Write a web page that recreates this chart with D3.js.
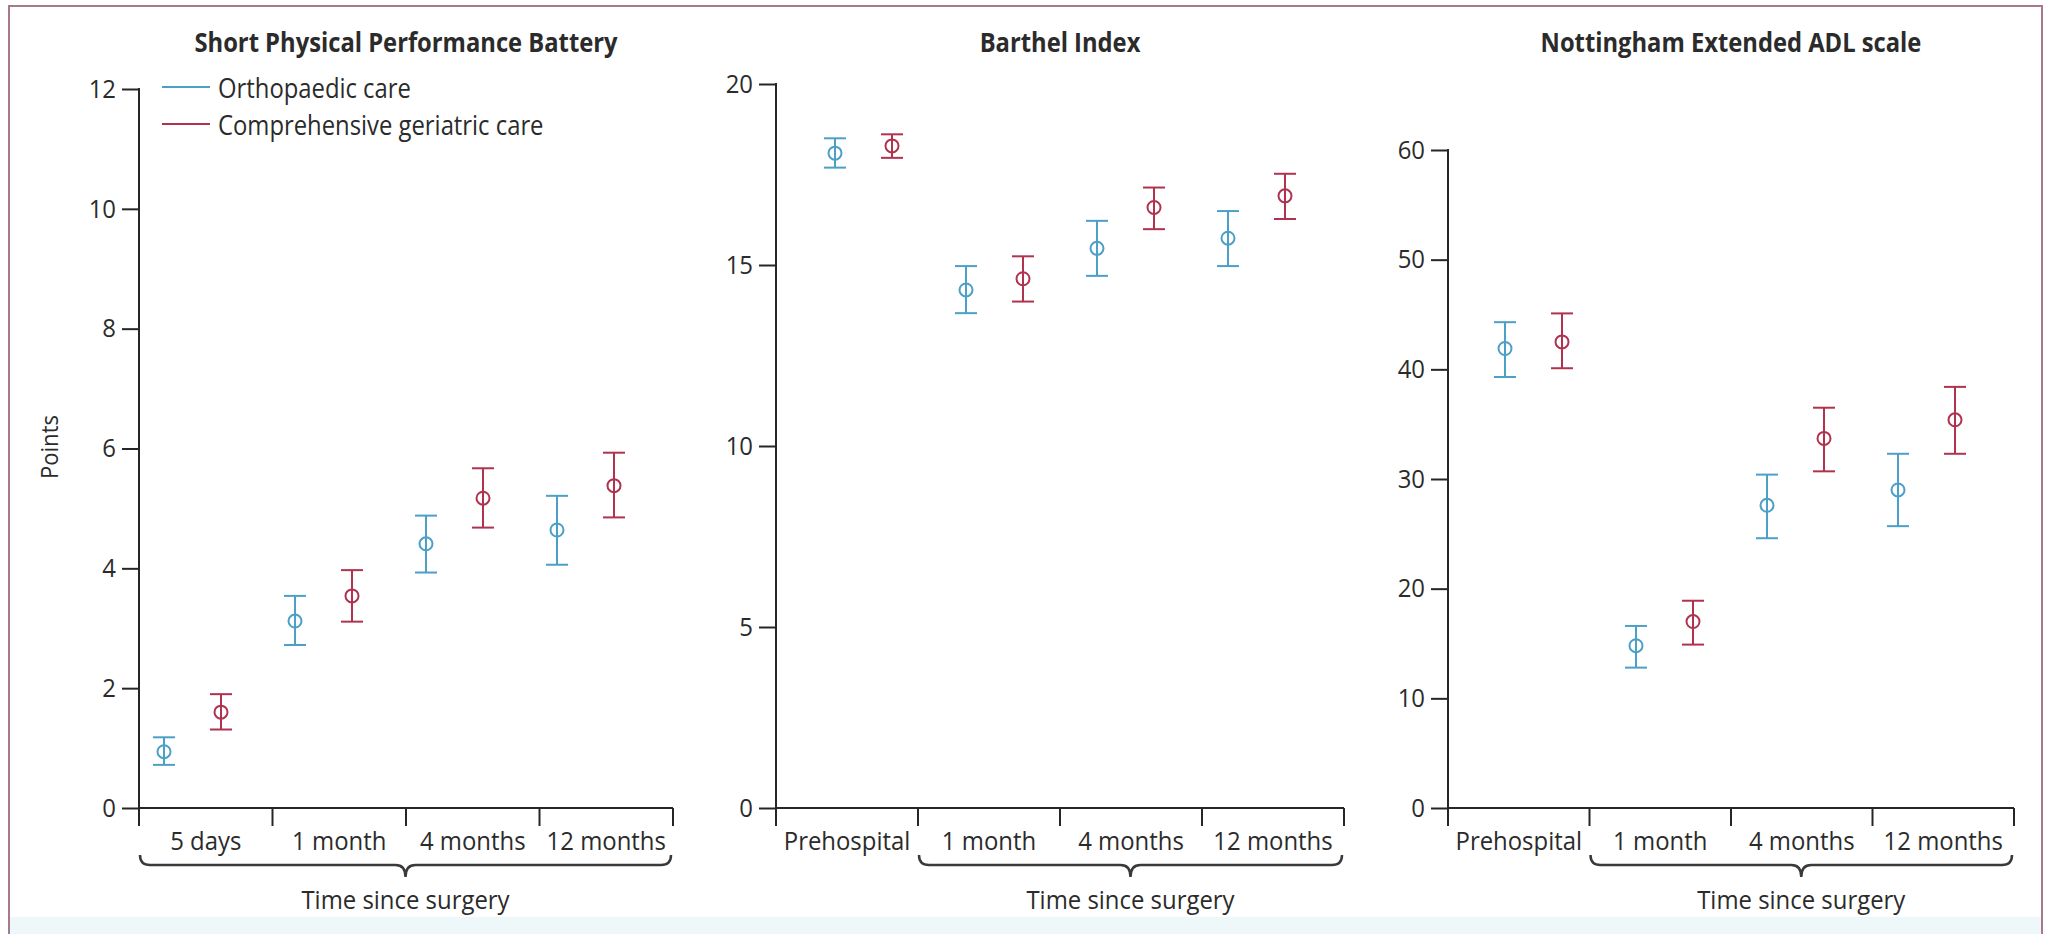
<!DOCTYPE html>
<html><head><meta charset="utf-8">
<script src="https://cdn.jsdelivr.net/npm/d3@7"></script>
<style>
html,body{margin:0;padding:0;background:#fff;}
svg{display:block;}
text{font-family:"Open Sans",sans-serif;fill:#2b2b2b;}
</style></head><body>
<svg id="c" width="2051" height="934"></svg>
<script>
// ---------- data ----------
const seriesNames = ["Orthopaedic care", "Comprehensive geriatric care"];
const seriesColors = ["#4c9fc7", "#b0324f"];
const xAxisGroupLabel = "Time since surgery";
const yAxisLabel = "Points";

// Short Physical Performance Battery
const sppbTitle = "Short Physical Performance Battery";
const sppbCategories = ["5 days", "1 month", "4 months", "12 months"];
const sppbTicks = [0, 2, 4, 6, 8, 10, 12];
const sppbOrtho   = [0.94, 3.12, 4.41, 4.64];
const sppbOrthoLo = [0.72, 2.72, 3.93, 4.06];
const sppbOrthoHi = [1.18, 3.54, 4.88, 5.21];
const sppbCGC     = [1.60, 3.54, 5.17, 5.38];
const sppbCGCLo   = [1.31, 3.11, 4.68, 4.85];
const sppbCGCHi   = [1.90, 3.97, 5.67, 5.93];

// Barthel Index
const barthelTitle = "Barthel Index";
const barthelCategories = ["Prehospital", "1 month", "4 months", "12 months"];
const barthelTicks = [0, 5, 10, 15, 20];
const barthelOrtho   = [18.09, 14.31, 15.46, 15.74];
const barthelOrthoLo = [17.69, 13.67, 14.70, 14.97];
const barthelOrthoHi = [18.50, 14.97, 16.22, 16.49];
const barthelCGC     = [18.29, 14.62, 16.59, 16.91];
const barthelCGCLo   = [17.96, 13.99, 15.99, 16.27];
const barthelCGCHi   = [18.61, 15.24, 17.14, 17.52];

// Nottingham Extended ADL scale
const nottTitle = "Nottingham Extended ADL scale";
const nottCategories = ["Prehospital", "1 month", "4 months", "12 months"];
const nottTicks = [0, 10, 20, 30, 40, 50, 60];
const nottOrtho   = [41.9, 14.8, 27.6, 29.0];
const nottOrthoLo = [39.3, 12.8, 24.6, 25.7];
const nottOrthoHi = [44.3, 16.6, 30.4, 32.3];
const nottCGC     = [42.5, 17.0, 33.7, 35.4];
const nottCGCLo   = [40.1, 14.9, 30.7, 32.3];
const nottCGCHi   = [45.1, 18.9, 36.5, 38.4];

// ---------- panels (built from the arrays above) ----------
const panels = [
  { title: sppbTitle, cats: sppbCategories, ticks: sppbTicks, braceFrom: 0,
    left: 139, right: 673, top: 89, firstPoint: 164, legend: true, yLabel: true,
    series: [
      { v: sppbOrtho, lo: sppbOrthoLo, hi: sppbOrthoHi },
      { v: sppbCGC, lo: sppbCGCLo, hi: sppbCGCHi } ] },
  { title: barthelTitle, cats: barthelCategories, ticks: barthelTicks, braceFrom: 1,
    left: 776, right: 1344, top: 84, firstPoint: 835,
    series: [
      { v: barthelOrtho, lo: barthelOrthoLo, hi: barthelOrthoHi },
      { v: barthelCGC, lo: barthelCGCLo, hi: barthelCGCHi } ] },
  { title: nottTitle, cats: nottCategories, ticks: nottTicks, braceFrom: 1,
    left: 1448, right: 2014, top: 150, firstPoint: 1505,
    series: [
      { v: nottOrtho, lo: nottOrthoLo, hi: nottOrthoHi },
      { v: nottCGC, lo: nottCGCLo, hi: nottCGCHi } ] }
];

const svg = d3.select("#c");
const INK = "#262626";
const BASE = 808;

// horizontally condense text (mimics the condensed journal typeface)
function condense(sel, sx) {
  sel.each(function () {
    const t = d3.select(this);
    const x = +t.attr("x") || 0, y = +t.attr("y") || 0;
    t.attr("x", 0).attr("y", 0).attr("transform", `translate(${x},${y}) scale(${sx},1)`);
  });
}

// frame + bottom band
svg.append("rect").attr("x", 10).attr("y", 917).attr("width", 2031).attr("height", 17).attr("fill", "#eef7f9");
svg.append("path").attr("d", "M9,940 V6 H2042 V940").attr("fill", "none")
  .attr("stroke", "#a7798f").attr("stroke-width", 2);

const color = d3.scaleOrdinal().domain(seriesNames).range(seriesColors);
const offset = d3.scaleOrdinal().domain(seriesNames).range([0, 57]);

panels.forEach(p => {
  const g = svg.append("g");
  const maxV = p.ticks[p.ticks.length - 1];
  const y = d3.scaleLinear().domain([0, maxV]).range([BASE, p.top]);
  const band = d3.scaleBand().domain(p.cats).range([p.left, p.right]);
  const px = d3.scalePoint().domain(p.cats).range([p.firstPoint, p.firstPoint + 393]);

  // title
  const tt = g.append("text").attr("x", (p.left + p.right) / 2).attr("y", 52)
    .attr("text-anchor", "middle").attr("font-weight", 700).attr("font-size", 27)
    .text(p.title);
  condense(tt, 0.88);

  // y axis
  const ya = g.append("g").attr("transform", `translate(${p.left},0)`)
    .call(d3.axisLeft(y).tickValues(p.ticks).tickSize(17).tickPadding(6).tickSizeOuter(0));
  ya.select(".domain").remove();
  ya.selectAll(".tick line").attr("stroke", INK).attr("stroke-width", 2);
  ya.selectAll(".tick text").attr("font-size", 26).attr("font-family", "Open Sans").attr("fill", "#2b2b2b");
  condense(ya.selectAll(".tick text"), 0.92);
  g.append("line").attr("x1", p.left).attr("x2", p.left).attr("y1", y(maxV) - 1).attr("y2", BASE + 18)
    .attr("stroke", INK).attr("stroke-width", 2);

  // x axis
  g.append("line").attr("x1", p.left).attr("x2", p.right).attr("y1", BASE).attr("y2", BASE)
    .attr("stroke", INK).attr("stroke-width", 2);
  const dividers = p.cats.map(c => band(c)).concat([p.right]);
  g.selectAll(".div").data(dividers).join("line")
    .attr("x1", d => d).attr("x2", d => d).attr("y1", BASE).attr("y2", BASE + 18)
    .attr("stroke", INK).attr("stroke-width", 2);
  const xa = g.append("g").attr("transform", `translate(0,${BASE})`)
    .call(d3.axisBottom(band).tickSize(0).tickPadding(24));
  xa.select(".domain").remove();
  xa.selectAll(".tick text").attr("font-size", 26).attr("font-family", "Open Sans").attr("fill", "#2b2b2b");
  condense(xa.selectAll(".tick text"), 0.92);

  // brace
  const x0 = band(p.cats[p.braceFrom]) + 1, x1 = p.right - 2, mid = (x0 + x1) / 2;
  const yT = 855, yH = 865, yTip = 877, r = 10;
  g.append("path")
    .attr("d", `M${x0},${yT} Q${x0},${yH} ${x0 + r},${yH} L${mid - r},${yH} Q${mid},${yH} ${mid},${yTip} Q${mid},${yH} ${mid + r},${yH} L${x1 - r},${yH} Q${x1},${yH} ${x1},${yT}`)
    .attr("fill", "none").attr("stroke", "#3a3a3a").attr("stroke-width", 2.5);
  const gl = g.append("text").attr("x", mid).attr("y", 909).attr("text-anchor", "middle")
    .attr("font-size", 26).text(xAxisGroupLabel);
  condense(gl, 0.92);

  // y label
  if (p.yLabel) {
    g.append("text").attr("transform", "translate(49,447) rotate(-90) scale(0.92,1)")
      .attr("text-anchor", "middle").attr("dominant-baseline", "central")
      .attr("font-size", 24).text(yAxisLabel);
  }

  // legend
  if (p.legend) {
    seriesNames.forEach((s, i) => {
      const ly = 87 + i * 37;
      g.append("line").attr("x1", 162).attr("x2", 210).attr("y1", ly).attr("y2", ly)
        .attr("stroke", color(s)).attr("stroke-width", 2);
      const lt = g.append("text").attr("x", 218).attr("y", ly).attr("dominant-baseline", "central")
        .attr("font-size", 26.5).text(s);
      condense(lt, 0.9);
    });
  }

  // error bars + markers
  p.series.forEach((s, si) => {
    const name = seriesNames[si];
    const col = color(name);
    const data = p.cats.map((c, i) => ({ c, v: s.v[i], lo: s.lo[i], hi: s.hi[i] }));
    const sg = g.append("g").attr("stroke", col).attr("stroke-width", 2).attr("fill", "none");
    const cx = d => px(d.c) + offset(name);
    sg.selectAll(".bar").data(data).join("line")
      .attr("x1", cx).attr("x2", cx).attr("y1", d => y(d.hi)).attr("y2", d => y(d.lo));
    sg.selectAll(".capH").data(data).join("line")
      .attr("x1", d => cx(d) - 11).attr("x2", d => cx(d) + 11).attr("y1", d => y(d.hi)).attr("y2", d => y(d.hi));
    sg.selectAll(".capL").data(data).join("line")
      .attr("x1", d => cx(d) - 11).attr("x2", d => cx(d) + 11).attr("y1", d => y(d.lo)).attr("y2", d => y(d.lo));
    sg.selectAll("circle").data(data).join("circle")
      .attr("cx", cx).attr("cy", d => y(d.v)).attr("r", 6.5);
  });
});
</script>
</body></html>
